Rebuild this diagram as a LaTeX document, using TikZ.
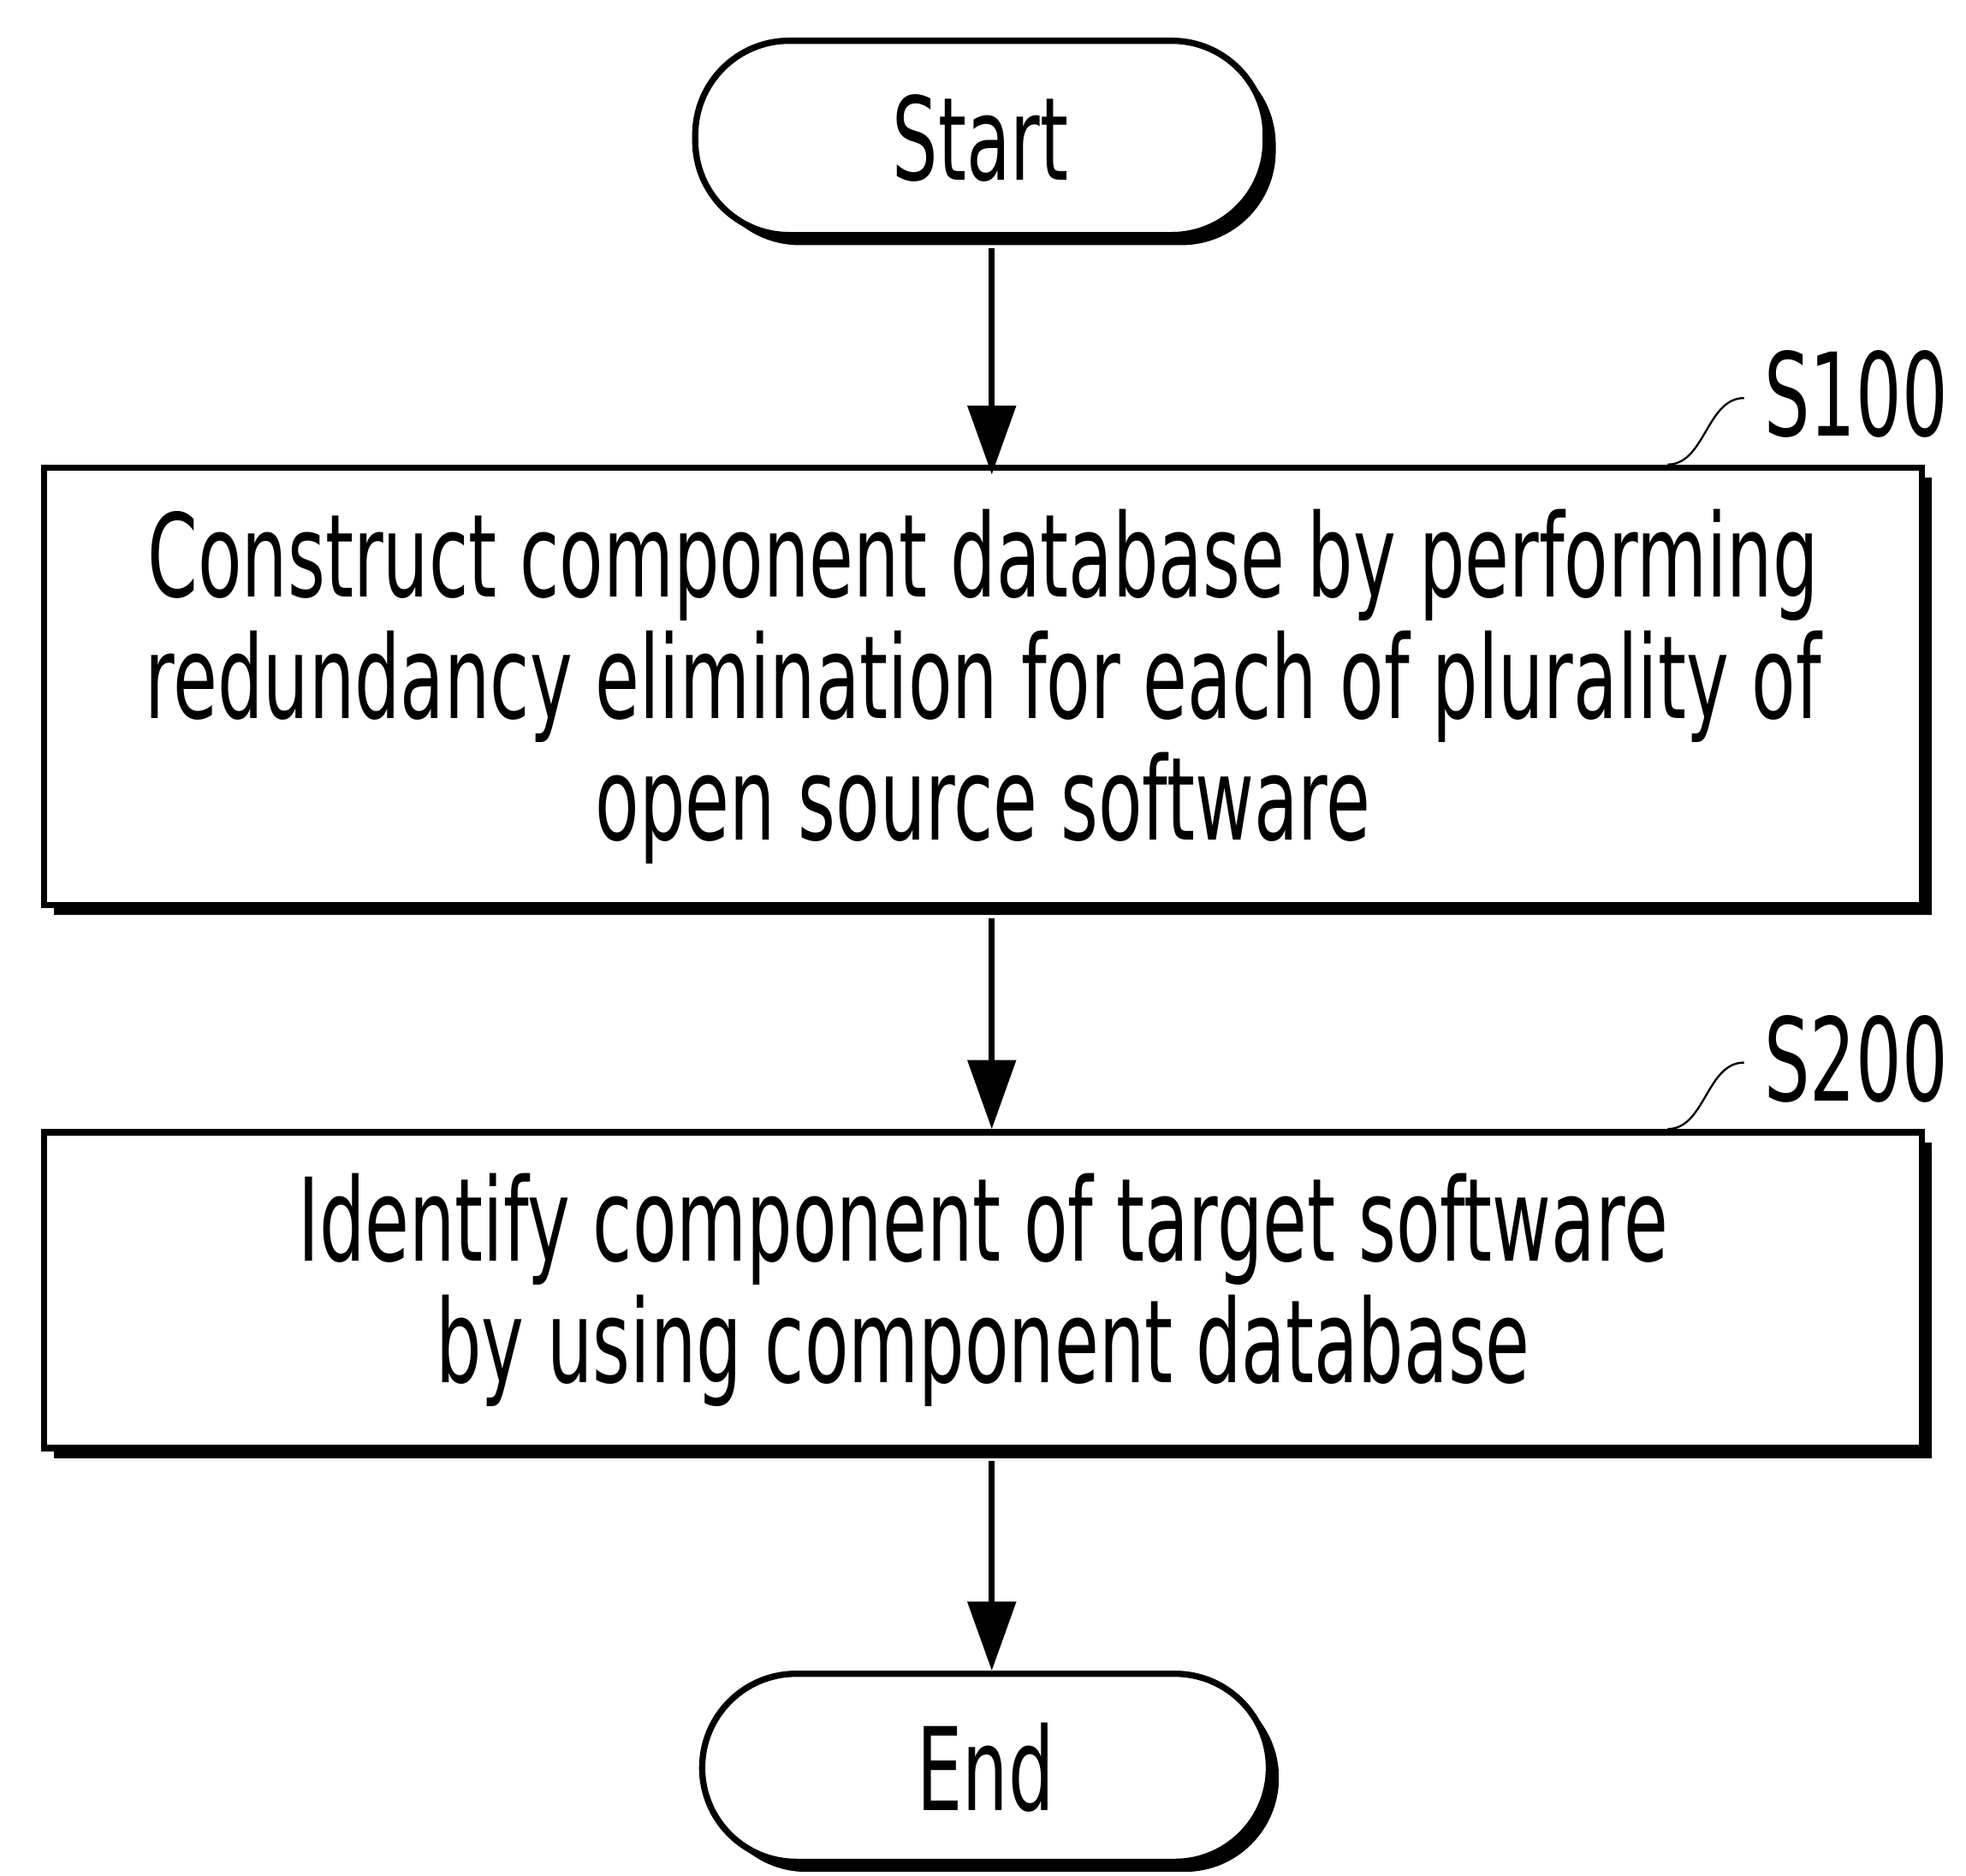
\documentclass[tikz,border=0pt]{standalone}
\usepackage{fontspec}
\setmainfont{DejaVu Sans}[FakeStretch=0.625]
\usetikzlibrary{arrows.meta,shadows}

\begin{document}
\begin{tikzpicture}[x=1pt,y=1pt,
  base/.style={draw=black, line width=5pt, fill=white,
    drop shadow={shadow xshift=8pt, shadow yshift=-8pt, opacity=1, fill=black}},
  txt/.style={font=\fontsize{92}{97}\selectfont},
  term/.style={base, txt, rounded corners=75pt, minimum width=455pt,
    minimum height=155pt, inner sep=0pt},
  procbox/.style={base, txt, minimum width=1498pt, inner sep=0pt, align=center},
  flow/.style={line width=4.5pt, -{Triangle[length=55pt,width=38pt]}},
  leader/.style={line width=1.6pt},
  steplabel/.style={txt, inner sep=0pt, anchor=west}
]
\useasboundingbox (0,0) rectangle (1568,-1496);

% terminals and process steps
\node[term] (start) at (782,-110) {Start};
\node[procbox, minimum height=349pt] (s100) at (784,-547.5)
  {Construct component database by performing\\
   redundancy elimination for each of plurality of\\
   open source software};
\node[procbox, minimum height=252pt] (s200) at (784,-1029)
  {Identify component of target software\\
   by using component database};
\node[term, minimum width=452pt, minimum height=150pt] (end) at (786,-1410) {End};

% flow arrows
\draw[flow] ([xshift=9pt,yshift=-8pt]start.south) -- ([xshift=9pt,yshift=-8pt]start.south |- s100.north);
\draw[flow] ([xshift=7pt,yshift=-8pt]s100.south) -- ([xshift=7pt]s100.south |- s200.north);
\draw[flow] ([xshift=7pt,yshift=-8pt]s200.south) -- ([xshift=7pt]s200.south |- end.north);

% step labels with leader lines
\coordinate (l1) at ([xshift=546pt]s100.north);
\coordinate (l1e) at ([shift={(61pt,53pt)}]l1);
\draw[leader] (l1) .. controls ([xshift=30pt]l1) and ([xshift=-30pt]l1e) .. (l1e);
\node[steplabel] (lab1) at ([xshift=16pt,yshift=3pt]l1e) {S100};

\coordinate (l2) at ([xshift=546pt]s200.north);
\coordinate (l2e) at ([shift={(61pt,53pt)}]l2);
\draw[leader] (l2) .. controls ([xshift=30pt]l2) and ([xshift=-30pt]l2e) .. (l2e);
\node[steplabel] (lab2) at ([xshift=16pt,yshift=3pt]l2e) {S200};
\end{tikzpicture}
\end{document}
